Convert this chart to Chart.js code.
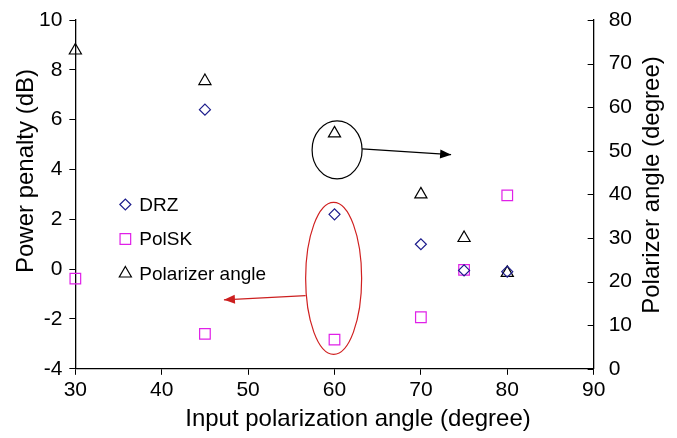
<!DOCTYPE html>
<html>
<head>
<meta charset="utf-8">
<script src="https://cdn.jsdelivr.net/npm/chart.js@4.4.1/dist/chart.umd.min.js"></script>
<style>
  html, body { margin: 0; padding: 0; background: #fff; }
  #wrap { width: 677px; height: 438px; }
</style>
</head>
<body>
<div id="wrap"><canvas id="chart"></canvas></div>
<script>
// values
const drzAngles = [45, 60, 70, 75, 80];
const drzPenalty = [6.4, 2.2, 1.0, -0.05, -0.1];
const polskAngles = [30, 45, 60, 70, 75, 80];
const polskPenalty = [-0.38, -2.6, -2.83, -1.93, -0.03, 2.96];
const polarizerInputs = [30, 45, 60, 70, 75, 80];
const polarizerAngle = [73, 66, 54, 40, 30, 22];

const xTicks = [30, 40, 50, 60, 70, 80, 90];
const legendLabels = ['DRZ', 'PolSK', 'Polarizer angle'];
const xTitle = 'Input polarization angle (degree)';
const yTitle = 'Power penalty (dB)';
const y2Title = 'Polarizer angle (degree)';

const FONT = 'Liberation Sans, Arial, sans-serif';

function pts(xs, ys) {
    return xs.map((x, i) => ({ x: x, y: ys[i] }));
}

// let the plot reach the top edge like the original
function noOverflow(scale) {
    scale.paddingTop = 0;
    scale.paddingBottom = 0;
}

// arrow helper
function arrow(ctx, x1, y1, x2, y2, color) {
    ctx.save();
    ctx.strokeStyle = color;
    ctx.fillStyle = color;
    ctx.lineWidth = 1.3;
    ctx.beginPath();
    ctx.moveTo(x1, y1);
    ctx.lineTo(x2, y2);
    ctx.stroke();
    const a = Math.atan2(y2 - y1, x2 - x1);
    const L = 11, W = 4.5;
    ctx.beginPath();
    ctx.moveTo(x2, y2);
    ctx.lineTo(x2 - L * Math.cos(a) + W * Math.sin(a), y2 - L * Math.sin(a) - W * Math.cos(a));
    ctx.lineTo(x2 - L * Math.cos(a) - W * Math.sin(a), y2 - L * Math.sin(a) + W * Math.cos(a));
    ctx.closePath();
    ctx.fill();
    ctx.restore();
}

const annotations = {
    id: 'annotations',
    afterDatasetsDraw(chart) {
        const ctx = chart.ctx;
        const x = chart.scales.x, y = chart.scales.y, y2 = chart.scales.y2;
        const ca = chart.chartArea;

        // right axis ticks point inwards
        ctx.save();
        ctx.strokeStyle = '#000';
        ctx.lineWidth = 1;
        for (let v = 0; v <= 80; v += 10) {
            const py = Math.round(y2.getPixelForValue(v)) + 0.5;
            ctx.beginPath();
            ctx.moveTo(ca.right - 6, py);
            ctx.lineTo(ca.right, py);
            ctx.stroke();
        }
        ctx.restore();

        // axis titles
        ctx.save();
        ctx.fillStyle = '#000';
        ctx.font = '24px ' + FONT;
        ctx.textAlign = 'center';
        ctx.textBaseline = 'middle';
        ctx.fillText(xTitle, 358, 419);
        ctx.save();
        ctx.translate(26, 171);
        ctx.rotate(-Math.PI / 2);
        ctx.fillText(yTitle, 0, 0);
        ctx.restore();
        ctx.save();
        ctx.translate(652, 185);
        ctx.rotate(-Math.PI / 2);
        ctx.fillText(y2Title, 0, 0);
        ctx.restore();
        ctx.restore();

        // black ellipse + arrow
        const cx1 = x.getPixelForValue(60.3), cy1 = y2.getPixelForValue(50.2);
        ctx.save();
        ctx.strokeStyle = '#000';
        ctx.lineWidth = 1.2;
        ctx.beginPath();
        ctx.ellipse(cx1, cy1, 25, 29, 0, 0, Math.PI * 2);
        ctx.stroke();
        ctx.restore();
        arrow(ctx, cx1 + 25, cy1 - 1, x.getPixelForValue(73.5), y2.getPixelForValue(49.1), '#000');

        // red ellipse + arrow
        const cx2 = x.getPixelForValue(59.9), cy2 = y.getPixelForValue(-0.37);
        ctx.save();
        ctx.strokeStyle = '#d02020';
        ctx.lineWidth = 1.2;
        ctx.beginPath();
        ctx.ellipse(cx2, cy2, 28, 76, 0, 0, Math.PI * 2);
        ctx.stroke();
        ctx.restore();
        arrow(ctx, cx2 - 28, y.getPixelForValue(-1.06), x.getPixelForValue(47.2), y.getPixelForValue(-1.23), '#cc1f1f');

        // legend inside plot
        const lx = ca.left + 50, ly = ca.top + 184.5;
        const sets = chart.data.datasets;
        ctx.save();
        ctx.font = '19px ' + FONT;
        ctx.textBaseline = 'middle';
        legendLabels.forEach((lab, i) => {
            const ds = sets[i];
            const py = ly + i * 34.5;
            ctx.lineWidth = 1.2;
            ctx.strokeStyle = ds.borderColor;
            ctx.fillStyle = 'rgba(0,0,0,0)';
            Chart.helpers.drawPoint(ctx, { pointStyle: ds.pointStyle, radius: ds.pointRadius, borderWidth: 1.2 }, lx, py);
            ctx.fillStyle = '#000';
            ctx.fillText(lab, lx + 14, py + 1);
        });
        ctx.restore();
    }
};

new Chart(document.getElementById('chart'), {
    type: 'scatter',
    data: {
        datasets: [
            {
                label: legendLabels[0],
                data: pts(drzAngles, drzPenalty),
                yAxisID: 'y',
                pointStyle: 'rectRot',
                pointRadius: 5.5,
                borderWidth: 1.2,
                borderColor: '#1c1c8c',
                backgroundColor: 'rgba(0,0,0,0)'
            },
            {
                label: legendLabels[1],
                data: pts(polskAngles, polskPenalty),
                yAxisID: 'y',
                pointStyle: 'rect',
                pointRadius: 7.5,
                borderWidth: 1.2,
                borderColor: '#e020e8',
                backgroundColor: 'rgba(0,0,0,0)'
            },
            {
                label: legendLabels[2],
                data: pts(polarizerInputs, polarizerAngle),
                yAxisID: 'y2',
                pointStyle: 'triangle',
                pointRadius: 7,
                borderWidth: 1.2,
                borderColor: '#000',
                backgroundColor: 'rgba(0,0,0,0)'
            }
        ]
    },
    options: {
        responsive: true,
        maintainAspectRatio: false,
        animation: false,
        clip: false,
        layout: { padding: { left: 32, right: 30, top: 20, bottom: 32 } },
        plugins: {
            legend: { display: false },
            tooltip: { enabled: false }
        },
        scales: {
            x: {
                type: 'linear',
                min: 30, max: 90,
                afterBuildTicks: (s) => { s.ticks = xTicks.map(v => ({ value: v })); },
                grid: { drawOnChartArea: false, drawTicks: true, tickLength: 6, color: '#000' },
                border: { color: '#000', width: 1.3 },
                ticks: { color: '#000', font: { family: FONT, size: 21 }, padding: 3 }
            },
            y: {
                position: 'left',
                min: -4, max: 10,
                afterFit: noOverflow,
                ticks: { stepSize: 2, color: '#000', font: { family: FONT, size: 21 }, padding: 7 },
                grid: { drawOnChartArea: false, drawTicks: true, tickLength: 6, color: '#000' },
                border: { color: '#000', width: 1.3 }
            },
            y2: {
                position: 'right',
                min: 0, max: 80,
                afterFit: noOverflow,
                ticks: { stepSize: 10, color: '#000', font: { family: FONT, size: 21 }, padding: 15 },
                grid: { drawOnChartArea: false, drawTicks: false, color: '#000' },
                border: { color: '#000', width: 1.3 }
            }
        }
    },
    plugins: [annotations]
});
</script>
</body>
</html>
